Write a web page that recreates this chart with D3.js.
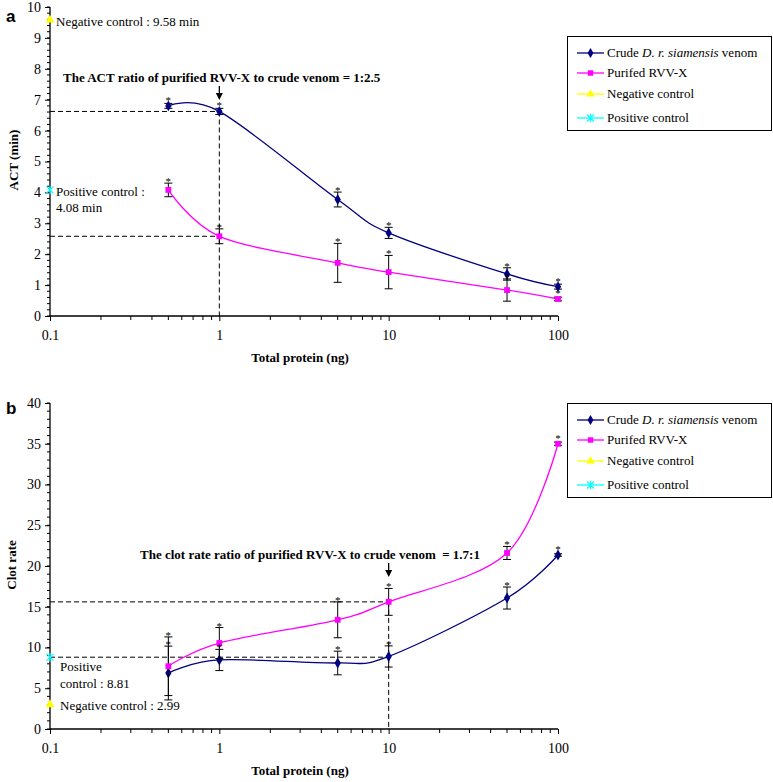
<!DOCTYPE html>
<html><head><meta charset="utf-8">
<script src="https://cdn.jsdelivr.net/npm/d3@7"></script>
<style>
body{margin:0;background:#fff;}
svg{display:block;font-family:"Liberation Serif","Times New Roman",serif;}
text{white-space:pre;}
</style></head>
<body>
<script>
// ---- data ----
const doses = [0.5, 1, 5, 10, 50, 100];
const xTicks = [0.1, 1, 10, 100];
const xTickLabels = ["0.1", "1", "10", "100"];
const seriesNames = ["Crude D. r. siamensis venom", "Purifed RVV-X", "Negative control", "Positive control"];

const actCrude = [6.8, 6.62, 3.77, 2.69, 1.36, 0.95];
const actCrudeErr = [0.08, 0.1, 0.24, 0.18, 0.2, 0.08];
const actPurified = [4.08, 2.58, 1.72, 1.42, 0.84, 0.55];
const actPurifiedErr = [0.22, 0.24, 0.63, 0.54, 0.36, 0.06];
const actNegative = 9.58;
const actPositive = 4.08;
const actTicks = [0,1,2,3,4,5,6,7,8,9,10];

const clotCrude = [6.87, 8.47, 8.1, 8.9, 16.07, 21.35];
const clotCrudeErr = [3.3, 1.3, 1.45, 1.3, 1.35, 0.15];
const clotPurified = [7.7, 10.55, 13.4, 15.6, 21.6, 35.0];
const clotPurifiedErr = [3.6, 1.9, 2.2, 1.65, 0.8, 0.2];
const clotNegative = 2.99;
const clotPositive = 8.81;
const clotTicks = [0,5,10,15,20,25,30,35,40];

const W = 773, H = 782;
const svg = d3.select("body").append("svg").attr("width", W).attr("height", H);

const NAVY = "#000080", MAG = "#ff00ff", YEL = "#ffff00", CYAN = "#00ffff";

function star(g, x, y, r, color) {
  const p = d3.path();
  p.moveTo(x - r, y - r); p.lineTo(x + r, y + r);
  p.moveTo(x - r, y + r); p.lineTo(x + r, y - r);
  p.moveTo(x, y - r * 1.2); p.lineTo(x, y + r * 1.2);
  g.append("path").attr("d", p.toString()).attr("stroke", color).attr("stroke-width", 1.2).attr("fill", "none");
}
function marker(g, type, x, y, color, size) {
  if (type === "star") { star(g, x, y, 3.5, color); return; }
  const sym = type === "diamond" ? d3.symbolDiamond : type === "square" ? d3.symbolSquare : d3.symbolTriangle;
  g.append("path").attr("d", d3.symbol(sym, size)()).attr("transform", `translate(${x},${y})`).attr("fill", color);
}

function panel(cfg) {
  const g = svg.append("g");
  const x = d3.scaleLog().domain([0.1, 100]).range([50, 558]);
  const y = d3.scaleLinear().domain([0, cfg.yMax]).range([cfg.y0, cfg.yTop]);

  g.append("text").attr("x", 6).attr("y", cfg.letterY).text(cfg.letter)
    .attr("font-family", "Liberation Sans, Arial, sans-serif").attr("font-weight", "bold").attr("font-size", 17);

  // dashed reference lines
  const dash = "5,3";
  cfg.hLines.forEach(v => {
    g.append("line").attr("x1", x(0.1)).attr("x2", x(cfg.vLine)).attr("y1", y(v)).attr("y2", y(v))
      .attr("stroke", "#000").attr("stroke-dasharray", dash).attr("stroke-width", 1);
  });
  g.append("line").attr("x1", x(cfg.vLine)).attr("x2", x(cfg.vLine)).attr("y1", y(d3.max(cfg.hLines))).attr("y2", y(0))
    .attr("stroke", "#000").attr("stroke-dasharray", dash).attr("stroke-width", 1);

  // axes
  const xAxis = d3.axisBottom(x).tickValues(xTicks).tickFormat((d, i) => xTickLabels[i]).tickSize(5).tickPadding(9);
  const xa = g.append("g").attr("transform", `translate(0,${cfg.y0})`).call(xAxis);
  const minorX = [];
  [0.1, 1, 10].forEach(b => { for (let k = 2; k <= 9; k++) minorX.push(b * k); });
  xa.selectAll(".minor").data(minorX).enter().append("line").attr("x1", d => x(d)).attr("x2", d => x(d))
    .attr("y1", 0).attr("y2", 4).attr("stroke", "#000");
  const yAxis = d3.axisLeft(y).tickValues(cfg.yTicks).tickSize(5).tickPadding(4);
  const ya = g.append("g").attr("transform", `translate(50,0)`).call(yAxis);
  ya.selectAll(".minor").data(d3.range(0, cfg.yMax + 1e-9, cfg.minorStep)).enter().append("line")
    .attr("x1", -3).attr("x2", 0).attr("y1", d => y(d)).attr("y2", d => y(d)).attr("stroke", "#000");
  [xa, ya].forEach(a => {
    a.attr("font-family", "Liberation Serif, serif").attr("font-size", 14);
    a.selectAll("text").attr("font-family", "Liberation Serif, serif").attr("font-size", 14).attr("fill", "#000");
    a.select(".domain").attr("stroke", "#000").attr("stroke-width", 1.3);
    a.selectAll(".tick line").attr("stroke", "#000");
  });
  xa.select(".domain").attr("d", `M50,0H558`);
  ya.select(".domain").attr("d", `M0,${cfg.y0}V${cfg.yTop}`);

  // axis titles
  g.append("text").attr("x", 300).attr("y", cfg.y0 + 46).attr("text-anchor", "middle")
    .attr("font-weight", "bold").attr("font-size", 13).text("Total protein (ng)");
  g.append("text").attr("transform", `translate(${cfg.yTitleX},${cfg.yTitleY}) rotate(-90)`).attr("text-anchor", "middle")
    .attr("font-weight", "bold").attr("font-size", 13).text(cfg.yTitle);

  // series
  const line = d3.line().x(d => x(d[0])).y(d => y(d[1])).curve(d3.curveCatmullRom.alpha(0));
  const series = [
    { vals: cfg.crude, err: cfg.crudeErr, color: NAVY, type: "diamond" },
    { vals: cfg.purified, err: cfg.purifiedErr, color: MAG, type: "square" }
  ];
  series.forEach(s => {
    g.append("path").attr("d", line(doses.map((d, i) => [d, s.vals[i]]))).attr("fill", "none")
      .attr("stroke", s.color).attr("stroke-width", 1.3);
  });
  series.forEach(s => {
    doses.forEach((d, i) => {
      const cx = x(d), top = y(s.vals[i] + s.err[i]), bot = y(s.vals[i] - s.err[i]);
      g.append("line").attr("x1", cx).attr("x2", cx).attr("y1", top).attr("y2", bot).attr("stroke", "#000");
      g.append("line").attr("x1", cx - 4).attr("x2", cx + 4).attr("y1", top).attr("y2", top).attr("stroke", "#000");
      g.append("line").attr("x1", cx - 4).attr("x2", cx + 4).attr("y1", bot).attr("y2", bot).attr("stroke", "#000");
      marker(g, s.type, cx, y(s.vals[i]), s.color, 34);
    });
  });
  series.forEach(s => {
    doses.forEach((d, i) => {
      const cx = x(d), top = Math.min(y(s.vals[i] + s.err[i]), y(s.vals[i]) - 4);
      g.append("text").attr("x", cx).attr("y", top + 2).attr("text-anchor", "middle")
        .attr("font-size", 11).text("*");
    });
  });

  // controls
  marker(g, "triangle", 50, y(cfg.neg), YEL, 36);
  star(g, 50, y(cfg.pos), 3.5, CYAN);
  cfg.notes.forEach(n => {
    g.append("text").attr("x", n.x).attr("y", n.y).attr("font-size", 13).text(n.t);
  });

  // annotation + arrow
  g.append("text").attr("x", cfg.annX).attr("y", cfg.annY).attr("font-weight", "bold").attr("font-size", 13)
    .text(cfg.ann);
  const ax = x(cfg.vLine);
  g.append("line").attr("x1", ax).attr("x2", ax).attr("y1", cfg.annY + 4).attr("y2", cfg.annY + 14).attr("stroke", "#000").attr("stroke-width", 1.3);
  g.append("path").attr("d", `M${ax - 3.5},${cfg.annY + 11}L${ax + 3.5},${cfg.annY + 11}L${ax},${cfg.annY + 18}Z`).attr("fill", "#000");

  // legend
  const lg = g.append("g");
  lg.append("rect").attr("x", 567.5).attr("y", cfg.legTop + 0.5).attr("width", 204).attr("height", 94)
    .attr("fill", "#fff").attr("stroke", "#000").attr("stroke-width", 1);
  const rows = [cfg.legTop + 17, cfg.legTop + 37, cfg.legTop + 58, cfg.legTop + 82];
  const legC = [NAVY, MAG, YEL, CYAN], legT = ["diamond", "square", "triangle", "star"];
  rows.forEach((ry, i) => {
    lg.append("line").attr("x1", 577).attr("x2", 604).attr("y1", ry).attr("y2", ry).attr("stroke", legC[i]).attr("stroke-width", 1.3);
    marker(lg, legT[i], 590.5, ry, legC[i], 30);
    const t = lg.append("text").attr("x", 607).attr("y", ry + 4).attr("font-size", 13);
    if (i === 0) {
      t.append("tspan").text("Crude ");
      t.append("tspan").attr("font-style", "italic").text("D. r. siamensis");
      t.append("tspan").text(" venom");
    } else t.text(seriesNames[i]);
  });
}

panel({
  letter: "a", letterY: 22, yMax: 10, y0: 316, yTop: 7, yTicks: actTicks, minorStep: 0.2,
  yTitle: "ACT (min)", yTitleX: 18, yTitleY: 160,
  crude: actCrude, crudeErr: actCrudeErr, purified: actPurified, purifiedErr: actPurifiedErr,
  neg: actNegative, pos: actPositive, hLines: [actCrude[1], actPurified[1]], vLine: 1,
  notes: [{ x: 56, y: 26, t: "Negative control : " + actNegative + " min" },
          { x: 56, y: 196, t: "Positive control :" }, { x: 56, y: 212, t: actPositive + " min" }],
  ann: "The ACT ratio of purified RVV-X to crude venom = 1:2.5", annX: 63, annY: 82, legTop: 36
});

panel({
  letter: "b", letterY: 414, yMax: 40, y0: 729, yTop: 403, yTicks: clotTicks, minorStep: 1,
  yTitle: "Clot rate", yTitleX: 16, yTitleY: 565,
  crude: clotCrude, crudeErr: clotCrudeErr, purified: clotPurified, purifiedErr: clotPurifiedErr,
  neg: clotNegative, pos: clotPositive, hLines: [clotPurified[3], clotPositive], vLine: 10,
  notes: [{ x: 60, y: 671, t: "Positive" }, { x: 60, y: 688, t: "control : " + clotPositive },
          { x: 60, y: 710, t: "Negative control : " + clotNegative }],
  ann: "The clot rate ratio of purified RVV-X to crude venom  = 1.7:1", annX: 140, annY: 559, legTop: 403
});
</script>
</body></html>
